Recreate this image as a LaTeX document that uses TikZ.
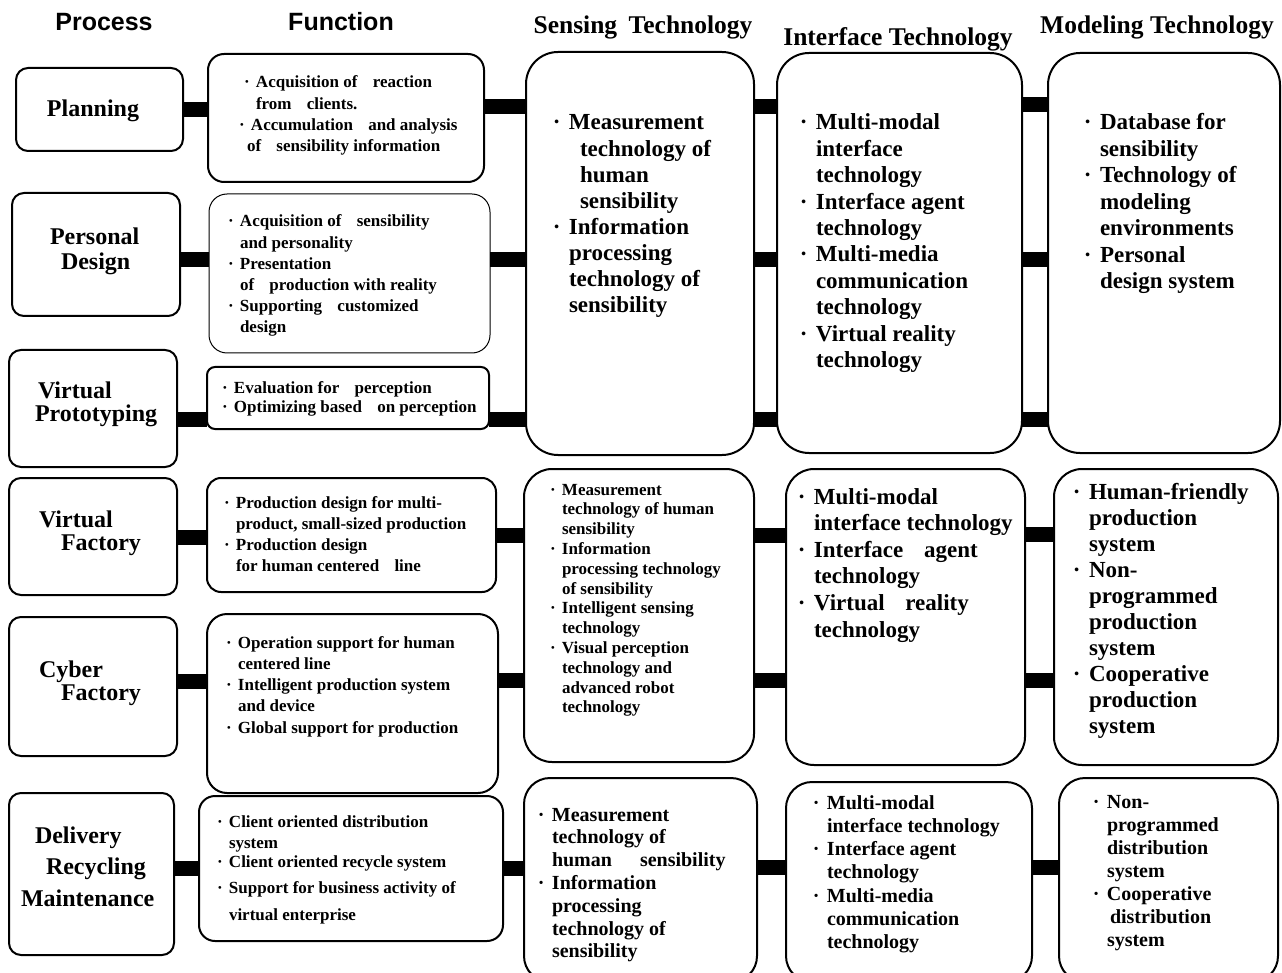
\documentclass[tikz,border=0pt]{standalone}
\usepackage{fontspec}
\setmainfont{Liberation Serif}
\newfontfamily\headsans{Liberation Sans}

% bullet hanging to the left of the text start, wide word gap, line indent
\newcommand\bu{\makebox[0pt][r]{·\hspace{0.37em}}}
\newcommand\gp{\hspace{0.9em}}
\newcommand\ind[1]{\hspace*{#1pt}}
% text block: size, leading, lines
\newcommand\blk[3]{\parbox[t]{400pt}{\raggedright\fontsize{#1}{#2}\selectfont\bfseries #3}}

\begin{document}
\begin{tikzpicture}[x=1pt,y=-1pt,
  box/.style={draw, line width=2pt, rounded corners=#1, inner sep=0pt, outer sep=0pt},
  box/.default=12pt,
  bar/.style={line width=15pt},
  txt/.style={anchor=base west, inner sep=0pt, outer sep=0pt},
  ctr/.style={anchor=base, inner sep=0pt, outer sep=0pt},
  sanshead/.style={ctr, font=\headsans\bfseries\fontsize{25}{30}\selectfont},
  serifhead/.style={ctr, font=\bfseries\fontsize{25.5}{30}\selectfont}]

\useasboundingbox (0,0) rectangle (1282,973);
\clip (0,0) rectangle (1282,973);

% column headings
\node[sanshead] (hproc) at (104,31) {Process};
\node[sanshead] (hfunc) at (341,31) {Function};
\node[serifhead] (hsens) at (643,34) {Sensing\hspace{0.45em}Technology};
\node[serifhead] (hintf) at (898,46) {Interface Technology};
\node[serifhead] (hmodl) at (1157,34) {Modeling Technology};

% process boxes
\node[box, minimum width=167pt, minimum height=83pt]  (pl) at (99.5,109.5) {};
\node[box, minimum width=168pt, minimum height=123pt] (pd) at (96,254.5) {};
\node[box, minimum width=168pt, minimum height=117pt] (vp) at (93,408.5) {};
\node[box, minimum width=168pt, minimum height=117pt] (vf) at (93,536.5) {};
\node[box, minimum width=168pt, minimum height=139pt] (cf) at (93,686.5) {};
\node[box, minimum width=165pt, minimum height=162pt] (dr) at (91.5,874) {};

% function boxes
\node[box=16pt, minimum width=276pt, minimum height=128pt] (f1) at (346,118) {};
\node[box=18pt, line width=1pt, minimum width=281pt, minimum height=159pt] (f2) at (349.5,273.5) {};
\node[box=8pt, minimum width=282pt, minimum height=62pt]   (f3) at (348,398) {};
\node[box=14pt, minimum width=289pt, minimum height=114pt] (f4) at (351.5,535) {};
\node[box=20pt, minimum width=291pt, minimum height=179pt] (f5) at (352.5,703.5) {};
\node[box=16pt, minimum width=304pt, minimum height=145pt] (f6) at (351,868.5) {};

% technology boxes
\node[box=32pt, minimum width=228pt, minimum height=403pt] (s1) at (640,253.5) {};
\node[box=32pt, minimum width=245pt, minimum height=400pt] (i1) at (899.5,253) {};
\node[box=32pt, minimum width=232pt, minimum height=400pt] (m1) at (1164,253) {};
\node[box=28pt, minimum width=230pt, minimum height=293pt] (s2) at (639,615.5) {};
\node[box=28pt, minimum width=239pt, minimum height=296pt] (i2) at (905.5,617) {};
\node[box=28pt, minimum width=224pt, minimum height=296pt] (m2) at (1166,617) {};
\node[box=26pt, minimum width=233pt, minimum height=204pt] (s3) at (640.5,880) {};
\node[box=26pt, minimum width=246pt, minimum height=200pt] (i3) at (909,882) {};
\node[box=26pt, minimum width=219pt, minimum height=204pt] (m3) at (1168.5,880) {};

% connecting bars
\draw[bar] (pl.east |- 0,110) -- (f1.west |- 0,110);
\draw[bar] (pd.east |- 0,260) -- (f2.west |- 0,260);
\draw[bar] (vp.east |- 0,419) -- (f3.west |- 0,419);
\draw[bar] (f1.east |- 0,107) -- (s1.west |- 0,107);
\draw[bar] (f2.east |- 0,260) -- (s1.west |- 0,260);
\draw[bar] (f3.east |- 0,419) -- (s1.west |- 0,419);
\draw[bar] (s1.east |- 0,107) -- (i1.west |- 0,107);
\draw[bar] (s1.east |- 0,260) -- (i1.west |- 0,260);
\draw[bar] (s1.east |- 0,419) -- (i1.west |- 0,419);
\draw[bar] (i1.east |- 0,105) -- (m1.west |- 0,105);
\draw[bar] (i1.east |- 0,260) -- (m1.west |- 0,260);
\draw[bar] (i1.east |- 0,419) -- (m1.west |- 0,419);
\draw[bar] (vf.east |- 0,537) -- (f4.west |- 0,537);
\draw[bar] (cf.east |- 0,681) -- (f5.west |- 0,681);
\draw[bar] (f4.east |- 0,535) -- (s2.west |- 0,535);
\draw[bar] (f5.east |- 0,680) -- (s2.west |- 0,680);
\draw[bar] (s2.east |- 0,535) -- (i2.west |- 0,535);
\draw[bar] (s2.east |- 0,680) -- (i2.west |- 0,680);
\draw[bar] (i2.east |- 0,534) -- (m2.west |- 0,534);
\draw[bar] (i2.east |- 0,680) -- (m2.west |- 0,680);
\draw[bar] (dr.east |- 0,868) -- (f6.west |- 0,868);
\draw[bar] (f6.east |- 0,868) -- (s3.west |- 0,868);
\draw[bar] (s3.east |- 0,867) -- (i3.west |- 0,867);
\draw[bar] (i3.east |- 0,867) -- (m3.west |- 0,867);

% process labels
\node[ctr, font=\bfseries\fontsize{24}{24}\selectfont] (tpl) at (93,117) {Planning};
\node[txt] (tpd) at (50,245) {\blk{24}{25}{Personal\\ \ind{11}Design}};
\node[txt] (tvp) at (35,398) {\blk{24}{24}{\ind{3}Virtual\\ Prototyping}};
\node[txt] (tvf) at (39,527) {\blk{24}{23}{Virtual\\ \ind{22}Factory}};
\node[txt] (tcf) at (39,677) {\blk{24}{23}{Cyber\\ \ind{22}Factory}};
\node[txt] (tdr) at (21,843) {\blk{24}{31.5}{\ind{14}Delivery\\ \ind{25}Recycling\\ Maintenance}};

% function texts
\node[txt] (tf1) at (251,88) {\blk{17}{21.3}{\ind{5}\bu Acquisition of\gp reaction\\ \ind{5}from\gp clients.\\ \bu Accumulation\gp and analysis\\ \ind{-4}of\gp sensibility information}};
\node[txt] (tf2) at (240,227) {\blk{17}{21.2}{\bu Acquisition of\gp sensibility\\ and personality\\ \bu Presentation\\ of\gp production with reality\\ \bu Supporting\gp customized\\ design}};
\node[txt] (tf3) at (234,393) {\blk{17}{19}{\bu Evaluation for\gp perception\\ \bu Optimizing based\gp on perception}};
\node[txt] (tf4) at (236,508) {\blk{17}{21.3}{\bu Production design for multi-\\ product, small-sized production\\ \bu Production design\\ for human centered\gp line}};
\node[txt] (tf5) at (238,648) {\blk{17}{21.25}{\bu Operation support for human\\ centered line\\ \bu Intelligent production system\\ and device\\ \bu Global support for production}};
\node[txt] (tf6) at (229,827) {\blk{17}{20}{\bu Client oriented distribution\\[1pt] system\\[-1pt] \bu Client oriented recycle system\\[6pt] \bu Support for business activity of\\[7pt] virtual enterprise}};

% technology texts
\node[txt] (ts1) at (569,130) {\blk{23}{26.1}{\bu Measurement\\ \ind{11}technology of\\ \ind{11}human\\ \ind{11}sensibility\\ \bu Information\\ processing\\ technology of\\ sensibility}};
\node[txt] (ti1) at (816,130) {\blk{23}{26.4}{\bu Multi-modal\\ interface\\ technology\\ \bu Interface agent\\ technology\\ \bu Multi-media\\ communication\\ technology\\ \bu Virtual reality\\ technology}};
\node[txt] (tm1) at (1100,130) {\blk{23}{26.5}{\bu Database for\\ sensibility\\ \bu Technology of\\ modeling\\ environments\\ \bu Personal\\ design system}};
\node[txt] (ts2) at (562,495) {\blk{17}{19.8}{\bu Measurement\\ technology of human\\ sensibility\\ \bu Information\\ processing technology\\ of sensibility\\ \bu Intelligent sensing\\ technology\\ \bu Visual perception\\ technology and\\ advanced robot\\ technology}};
\node[txt] (ti2) at (814,504) {\blk{23}{26.6}{\bu Multi-modal\\ interface technology\\ \bu Interface\gp agent\\ technology\\ \bu Virtual\gp reality\\ technology}};
\node[txt] (tm2) at (1089,499) {\blk{23}{26.1}{\bu Human-friendly\\ production\\ system\\ \bu Non-\\ programmed\\ production\\ system\\ \bu Cooperative\\ production\\ system}};
\node[txt] (ts3) at (552,821) {\blk{20}{22.8}{\bu Measurement\\ technology of\\ human\hspace{1.4em}sensibility\\ \bu Information\\ processing\\ technology of\\ sensibility}};
\node[txt] (ti3) at (827,809) {\blk{20}{23.3}{\bu Multi-modal\\ interface technology\\ \bu Interface agent\\ technology\\ \bu Multi-media\\ communication\\ technology}};
\node[txt] (tm3) at (1107,808) {\blk{20}{23}{\bu Non-\\ programmed\\ distribution\\ system\\ \bu Cooperative\\ \ind{3}distribution\\ system}};

\end{tikzpicture}
\end{document}
